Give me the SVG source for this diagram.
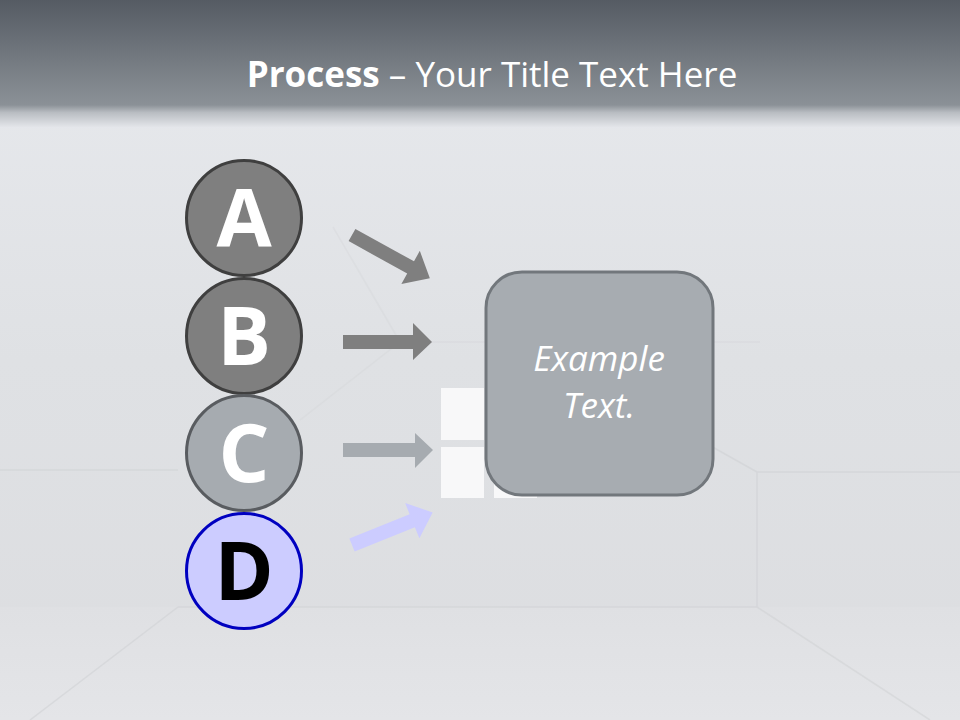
<svg xmlns="http://www.w3.org/2000/svg" width="960" height="720" viewBox="0 0 960 720">
  <defs>
    <linearGradient id="hdr" x1="0" y1="0" x2="0" y2="1">
      <stop offset="0" stop-color="#555b63"/>
      <stop offset="0.82" stop-color="#8b9197"/>
      <stop offset="0.88" stop-color="#b9bdc2"/>
      <stop offset="1" stop-color="#e6e8ec"/>
    </linearGradient>
    <linearGradient id="bg" x1="0" y1="0" x2="0" y2="1">
      <stop offset="0" stop-color="#e8eaee"/>
      <stop offset="0.5" stop-color="#dfe1e4"/>
      <stop offset="1" stop-color="#dcdde0"/>
    </linearGradient>
    <linearGradient id="floor" x1="0" y1="0" x2="0" y2="1">
      <stop offset="0" stop-color="#dfe0e3"/>
      <stop offset="1" stop-color="#e4e5e8"/>
    </linearGradient>
    <style>
      .room { stroke: #cfd1d4; stroke-width: 1.5; fill: none; opacity: 0.55; }
      .title { font-family: "Open Sans", "Liberation Sans", sans-serif; font-size: 35px; fill: #ffffff; }
      .circ { stroke-width: 3; }
      .letter { font-family: "Open Sans", "Liberation Sans", sans-serif; font-weight: bold; font-size: 80px; text-anchor: middle; }
      .sq { fill: #f8f8f9; }
      .box { fill: #a7acb1; stroke: #72777c; stroke-width: 3; }
      .boxtxt { font-family: "Open Sans", "Liberation Sans", sans-serif; font-style: italic; font-size: 35px; fill: #ffffff; text-anchor: middle; }
    </style>
  </defs>

  <!-- background room -->
  <rect x="0" y="0" width="960" height="720" fill="url(#bg)"/>
  <rect x="0" y="607" width="960" height="113" fill="url(#floor)"/>
  <g id="room-lines" class="room">
    <line x1="0" y1="470" x2="178" y2="470"/>
    <line x1="757" y1="472" x2="960" y2="472"/>
    <line x1="178" y1="607" x2="757" y2="607"/>
    <line x1="757" y1="472" x2="757" y2="607"/>
    <line x1="178" y1="607" x2="30" y2="720"/>
    <line x1="757" y1="607" x2="930" y2="720"/>
    <line x1="757" y1="472" x2="700" y2="440"/>
    <line x1="400" y1="342" x2="760" y2="342" stroke-opacity="0.6"/>
    <line x1="400" y1="342" x2="333" y2="227" stroke-opacity="0.5"/>
    <line x1="400" y1="342" x2="300" y2="420" stroke-opacity="0.5"/>
  </g>

  <!-- header -->
  <rect x="0" y="0" width="960" height="128" fill="url(#hdr)"/>
  <text class="title" x="492" y="87" text-anchor="middle"><tspan font-weight="bold">Process</tspan> – Your Title Text Here</text>

  <!-- white squares behind box -->
  <g id="squares">
    <rect class="sq" x="441" y="388" width="43" height="52"/>
    <rect class="sq" x="441" y="447" width="43" height="51"/>
    <rect class="sq" x="494" y="447" width="43" height="51"/>
  </g>

  <!-- connectors -->
  <g id="connectors">
    <polygon fill="#7f7f7f" transform="translate(352,235) rotate(29)" points="0,-7 67,-7 67,-19 89,0 67,19 67,7 0,7"/>
    <polygon fill="#7f7f7f" points="343,335 413,335 413,323 432,342 413,360 413,349 343,349"/>
    <polygon fill="#a6abb0" points="343,443 415,443 415,433 433,450 415,468 415,457 343,457"/>
    <polygon fill="#ccccff" transform="translate(352,545) rotate(-22)" points="0,-7 65,-7 65,-19 87,0 65,19 65,7 0,7"/>
  </g>

  <!-- nodes -->
  <g id="node-A">
    <circle class="circ" cx="244" cy="218" r="57.5" fill="#7f7f7f" stroke="#3f3f3f"/>
    <text class="letter" x="244" y="247" fill="#ffffff">A</text>
  </g>
  <g id="node-B">
    <circle class="circ" cx="244" cy="336" r="57.5" fill="#7f7f7f" stroke="#3f3f3f"/>
    <text class="letter" x="244" y="365" fill="#ffffff">B</text>
  </g>
  <g id="node-C">
    <circle class="circ" cx="244" cy="453" r="57.5" fill="#a6abb0" stroke="#595c60"/>
    <text class="letter" x="244" y="482" fill="#ffffff">C</text>
  </g>
  <g id="node-D">
    <circle class="circ" cx="244" cy="571" r="57.5" fill="#ccccff" stroke="#0000c0"/>
    <text class="letter" x="244" y="600" fill="#000000">D</text>
  </g>
  <g id="node-box">
    <rect class="box" x="486" y="272" width="227" height="223" rx="36" ry="36"/>
    <text class="boxtxt" x="599" y="371">Example</text>
    <text class="boxtxt" x="599" y="418">Text.</text>
  </g>
</svg>
